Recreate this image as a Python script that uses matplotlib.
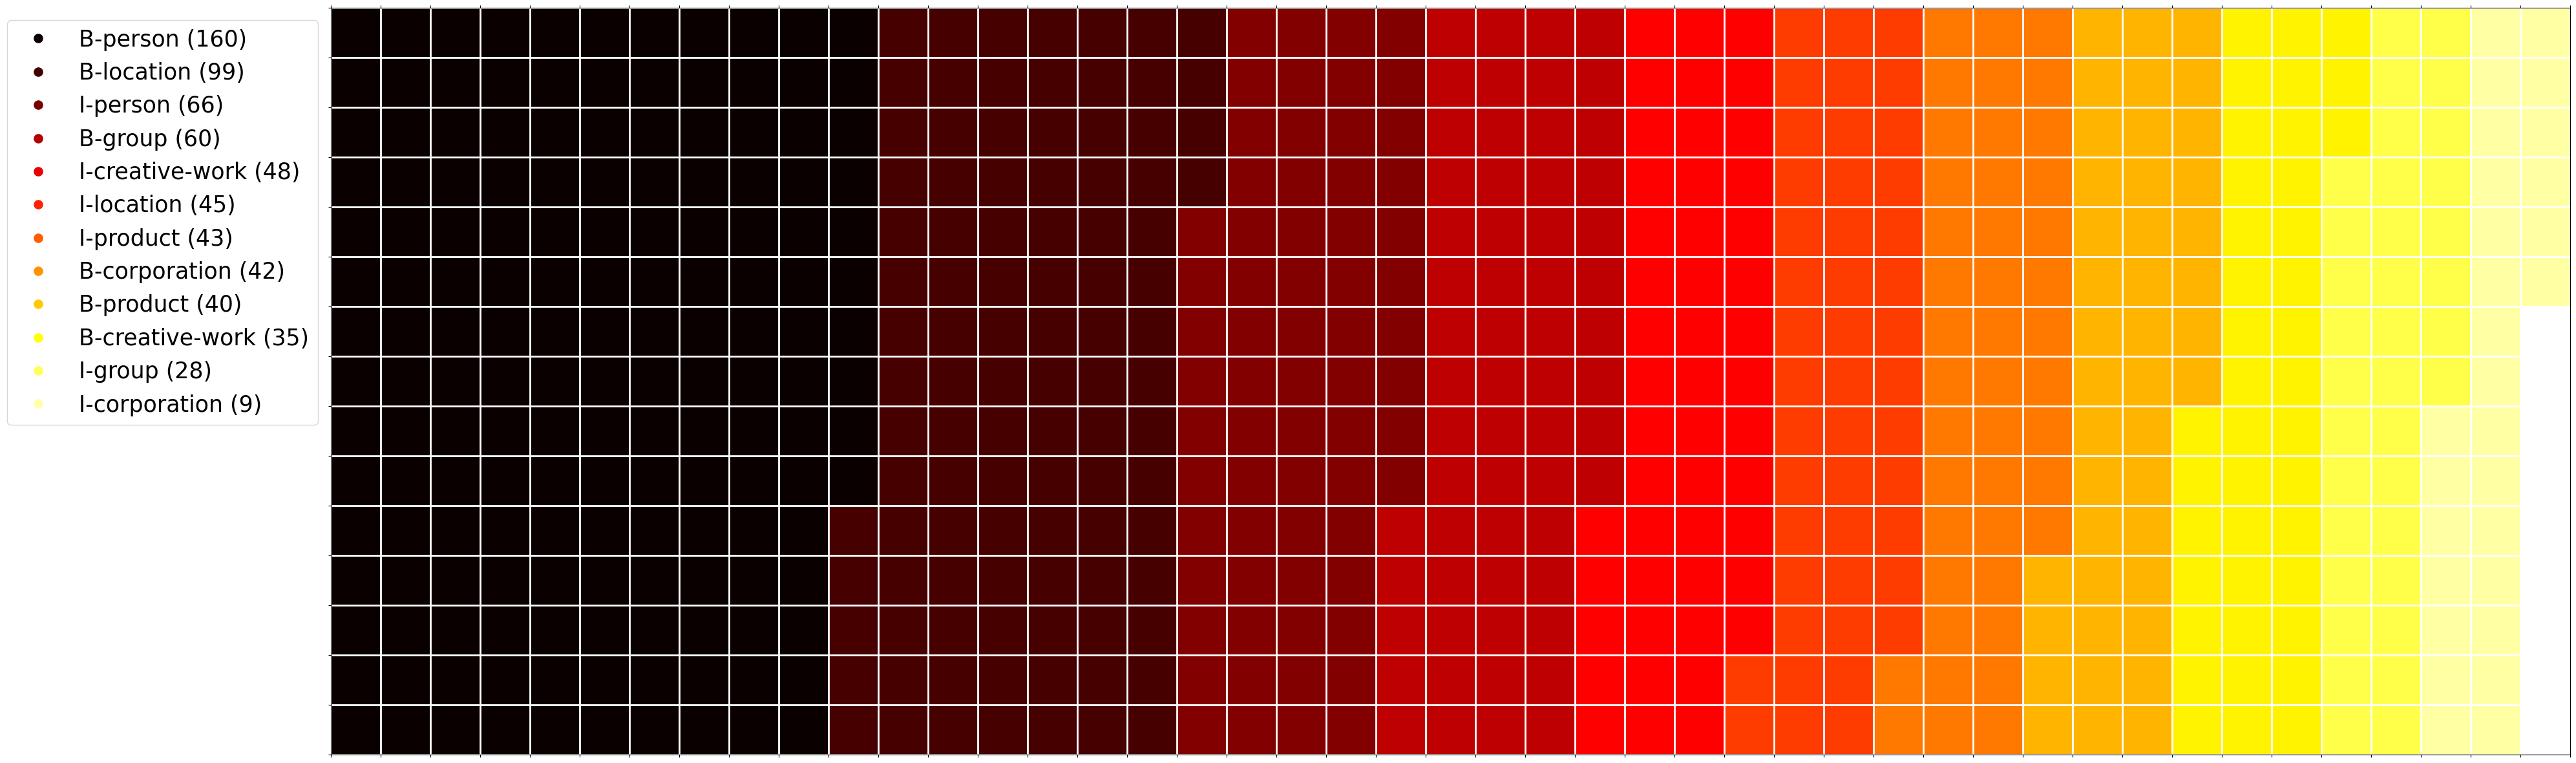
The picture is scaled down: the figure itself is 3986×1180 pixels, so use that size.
import numpy as np
import matplotlib
matplotlib.use("Agg")
import matplotlib.pyplot as plt
from matplotlib.lines import Line2D

# ---- data ----
categories = ["B-person", "B-location", "I-person", "B-group", "I-creative-work",
              "I-location", "I-product", "B-corporation", "B-product",
              "B-creative-work", "I-group", "I-corporation"]
counts = [160, 99, 66, 60, 48, 45, 43, 42, 40, 35, 28, 9]

n_rows = 15
W, H, DPI = 3987, 1180, 100

cmap = plt.get_cmap("hot")
n_cat = len(categories)
total = sum(counts)
n_cols = int(np.ceil(total / n_rows))

# cell matrix: fill column by column, top to bottom
cells = np.full(n_rows * n_cols, np.nan)
cells[:total] = np.repeat(np.arange(n_cat), counts)
grid = cells.reshape(n_cols, n_rows).T

fig = plt.figure(figsize=(W / DPI, H / DPI), dpi=DPI)
ax = fig.add_axes([512 / W, 13 / H, 3465 / W, 1155 / H])
ax.imshow(grid, cmap=cmap, vmin=0, vmax=n_cat - 1, aspect="equal",
          interpolation="nearest")

ax.set_xticks([])
ax.set_yticks([])
ax.set_xticks(np.arange(-0.5, n_cols, 1), minor=True)
ax.set_yticks(np.arange(-0.5, n_rows, 1), minor=True)
ax.grid(which="minor", color="white", linewidth=2)
ax.tick_params(which="minor", top=True, bottom=True, left=True, right=False,
               labeltop=False, labelbottom=False, labelleft=False,
               length=3, width=0.8)
ax.set_xlim(-0.5, n_cols - 0.5)
ax.set_ylim(n_rows - 0.5, -0.5)

handles = [Line2D([], [], marker="o", linestyle="", markersize=9.5,
                  color=cmap(i / n_cat)) for i in range(n_cat)]
labels = [f"{c} ({v})" for c, v in zip(categories, counts)]
fig.legend(handles, labels, loc="upper left",
           bbox_to_anchor=(10.7 / W, 1 - 30.7 / H), borderaxespad=0,
           fontsize=25)

fig.savefig("out.png", dpi=DPI)
